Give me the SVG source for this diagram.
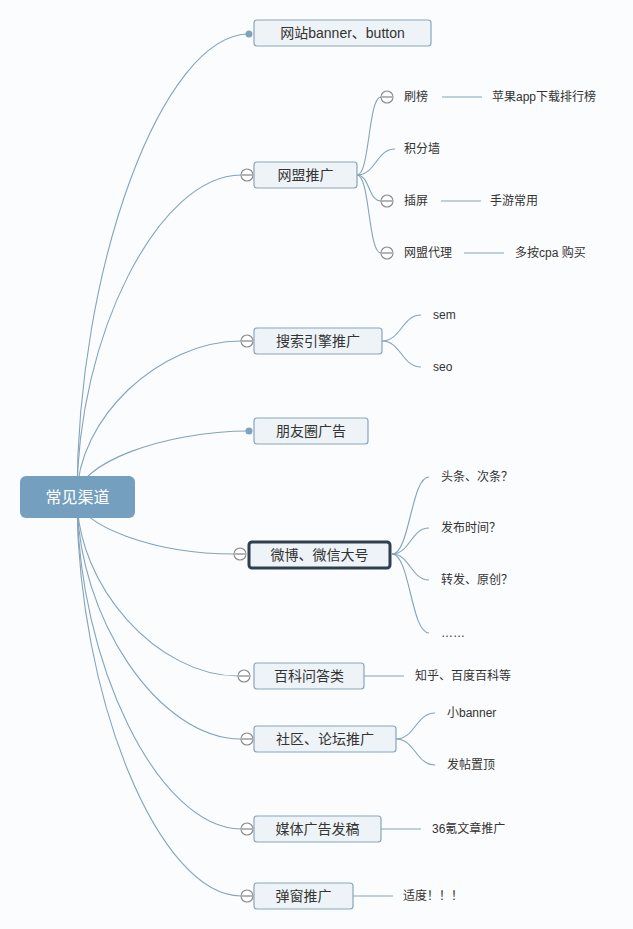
<svg xmlns="http://www.w3.org/2000/svg" width="633" height="929" viewBox="0 0 633 929">
<style>
text{font-family:"Liberation Sans","Noto Sans CJK SC",sans-serif;fill:#333;dominant-baseline:central}
.main{font-size:14px;text-anchor:middle}
.sub{font-size:12px}
.box{fill:#eef3f7;stroke:#8aa5bb;stroke-width:1.2}
.ln{fill:none;stroke:#84a3ba;stroke-width:1.1}
.cc{fill:#fff;stroke:#888;stroke-width:1.1}
.cm{stroke:#777;stroke-width:1.1}
.dot{fill:#7ea3bd}
</style>
<rect width="633" height="929" fill="#fbfcfd"/>
<g id="connectors">
<path class="ln" d="M77,497 C77,265.5 163,34 249,34"/>
<path class="ln" d="M77,497 C77,336 159,175 241,175"/>
<path class="ln" d="M77,497 C77,419 159,341 241,341"/>
<path class="ln" d="M77,497 C77,464 163,431 249,431"/>
<path class="ln" d="M77,497 C77,525.5 155.5,554 234,554"/>
<path class="ln" d="M77,497 C77,586.5 157.5,676 238,676"/>
<path class="ln" d="M77,497 C77,618 159,739 241,739"/>
<path class="ln" d="M77,497 C77,663 159,829 241,829"/>
<path class="ln" d="M77,497 C77,696.5 159,896 241,896"/>
<path class="ln" d="M357,175 C370,175 368,97 381,97"/>
<path class="ln" d="M357,175 C376,175 376,149 395,149"/>
<path class="ln" d="M357,175 C370,175 368,201 381,201"/>
<path class="ln" d="M357,175 C370,175 368,253 381,253"/>
<path class="ln" d="M382,341 C401,341 402,315 421,315"/>
<path class="ln" d="M382,341 C401,341 402,367 421,367"/>
<path class="ln" d="M392,554 C410,554 411,477 429,477"/>
<path class="ln" d="M392,554 C410,554 411,528 429,528"/>
<path class="ln" d="M392,554 C410,554 411,580 429,580"/>
<path class="ln" d="M392,554 C410,554 411,633 429,633"/>
<path class="ln" d="M396,739 C415,739 416,713 435,713"/>
<path class="ln" d="M396,739 C415,739 416,765 435,765"/>
<path class="ln" d="M442,97 H482"/>
<path class="ln" d="M441,201 H481"/>
<path class="ln" d="M464,253 H504"/>
<path class="ln" d="M364,676 H404"/>
<path class="ln" d="M381,829 H421"/>
<path class="ln" d="M353,896 H393"/>
</g>
<g id="root">
<rect x="20" y="476" width="115" height="42" rx="6" fill="#759fbf"/>
<text x="77.5" y="497" style="font-size:16px;text-anchor:middle;fill:#fff">常见渠道</text>
</g>
<g id="n1">
<circle class="dot" cx="249" cy="34" r="3.5"/>
<rect class="box" x="254" y="20" width="177" height="26" rx="3"/>
<text class="main" x="342.5" y="33">网站banner、button</text>
</g>
<g id="n2">
<circle class="cc" cx="247" cy="175" r="6"/><path class="cm" d="M242,175 H252"/>
<rect class="box" x="254" y="162" width="103" height="26" rx="3"/>
<text class="main" x="305.5" y="175">网盟推广</text>
</g>
<g id="n2a">
<circle class="cc" cx="387" cy="97" r="6"/><path class="cm" d="M382,97 H392"/>
<text class="sub" x="404" y="97">刷榜</text>
</g>
<g id="n2a1"><text class="sub" x="492" y="97">苹果app下载排行榜</text></g>
<g id="n2b"><text class="sub" x="404" y="149">积分墙</text></g>
<g id="n2c">
<circle class="cc" cx="387" cy="201" r="6"/><path class="cm" d="M382,201 H392"/>
<text class="sub" x="404" y="201">插屏</text>
</g>
<g id="n2c1"><text class="sub" x="490" y="201">手游常用</text></g>
<g id="n2d">
<circle class="cc" cx="387" cy="253" r="6"/><path class="cm" d="M382,253 H392"/>
<text class="sub" x="404" y="253">网盟代理</text>
</g>
<g id="n2d1"><text class="sub" x="515" y="253">多按cpa 购买</text></g>
<g id="n3">
<circle class="cc" cx="247" cy="341" r="6"/><path class="cm" d="M242,341 H252"/>
<rect class="box" x="254" y="328" width="128" height="26" rx="3"/>
<text class="main" x="318" y="341">搜索引擎推广</text>
</g>
<g id="n3a"><text class="sub" x="433" y="315">sem</text></g>
<g id="n3b"><text class="sub" x="433" y="367">seo</text></g>
<g id="n4">
<circle class="dot" cx="249" cy="431" r="3.5"/>
<rect class="box" x="254" y="418" width="114" height="26" rx="3"/>
<text class="main" x="311" y="431">朋友圈广告</text>
</g>
<g id="n5">
<circle class="cc" cx="240" cy="554" r="6"/><path class="cm" d="M235,554 H245"/>
<rect x="249" y="542" width="141" height="26" rx="3" fill="#eef3f7" stroke="#2f3f4f" stroke-width="3"/>
<text class="main" x="319.5" y="555">微博、微信大号</text>
</g>
<g id="n5a"><text class="sub" x="441" y="477">头条、次条？</text></g>
<g id="n5b"><text class="sub" x="441" y="528">发布时间？</text></g>
<g id="n5c"><text class="sub" x="441" y="580">转发、原创？</text></g>
<g id="n5d"><text class="sub" x="441" y="633">……</text></g>
<g id="n6">
<circle class="cc" cx="244" cy="676" r="6"/><path class="cm" d="M239,676 H249"/>
<rect class="box" x="254" y="663" width="110" height="26" rx="3"/>
<text class="main" x="309" y="676">百科问答类</text>
</g>
<g id="n6a"><text class="sub" x="415" y="676">知乎、百度百科等</text></g>
<g id="n7">
<circle class="cc" cx="247" cy="739" r="6"/><path class="cm" d="M242,739 H252"/>
<rect class="box" x="254" y="726" width="142" height="26" rx="3"/>
<text class="main" x="325" y="739">社区、论坛推广</text>
</g>
<g id="n7a"><text class="sub" x="447" y="713">小banner</text></g>
<g id="n7b"><text class="sub" x="447" y="765">发帖置顶</text></g>
<g id="n8">
<circle class="cc" cx="247" cy="829" r="6"/><path class="cm" d="M242,829 H252"/>
<rect class="box" x="254" y="816" width="127" height="26" rx="3"/>
<text class="main" x="317.5" y="829">媒体广告发稿</text>
</g>
<g id="n8a"><text class="sub" x="432" y="829">36氪文章推广</text></g>
<g id="n9">
<circle class="cc" cx="247" cy="896" r="6"/><path class="cm" d="M242,896 H252"/>
<rect class="box" x="254" y="883" width="99" height="26" rx="3"/>
<text class="main" x="303.5" y="896">弹窗推广</text>
</g>
<g id="n9a"><text class="sub" x="403" y="896">适度！！！</text></g>
</svg>
